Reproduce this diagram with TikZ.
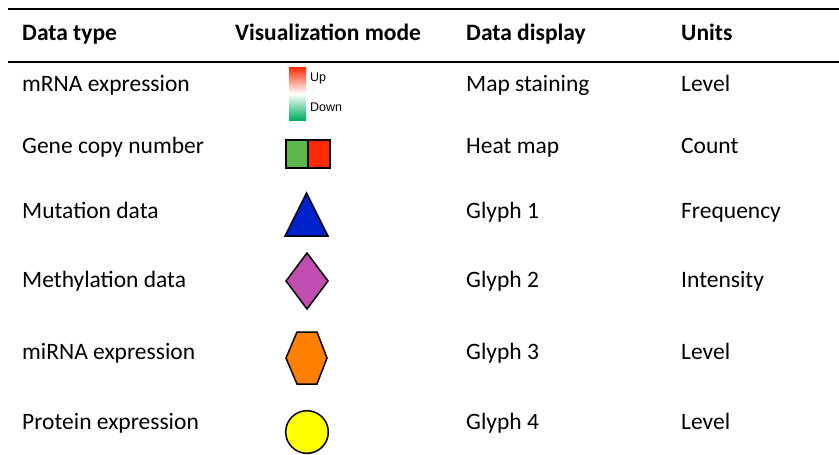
\documentclass[tikz,border=0pt]{standalone}
\usepackage{fontspec}
\setmainfont{Carlito}
\newfontfamily\smallsans{Liberation Sans}
\usetikzlibrary{shadows}

\definecolor{mapgreen}{HTML}{5CB84A}
\definecolor{mapred}{HTML}{FF2A00}
\definecolor{mapdown}{HTML}{00B060}
\definecolor{glyphblue}{HTML}{0022CC}
\definecolor{glyphpink}{HTML}{C04DB0}
\definecolor{glyphorange}{HTML}{FF7F00}
\definecolor{glyphyellow}{HTML}{FFFF00}

\tikzset{
  cell/.style={anchor=base west, inner sep=0pt, font=\fontsize{23.5}{28}\selectfont},
  head/.style={cell, font=\fontsize{23.5}{28}\selectfont\bfseries},
  tiny/.style={anchor=base west, inner sep=0pt, font=\fontsize{12.5}{14}\selectfont\smallsans},
  glyph/.style={draw=black, line width=1.5pt, line join=miter},
  rule/.style={line width=1.5pt}
}

\begin{document}
\begin{tikzpicture}[x=1pt, y=-1pt]
\useasboundingbox (0,0) rectangle (839,455);
% rules
\coordinate (t1) at (8,9);
\coordinate (t2) at (839,9);
\coordinate (m1) at (8,62);
\coordinate (m2) at (839,62);
\draw[rule] (t1) -- (t2);
\draw[rule] (m1) -- (m2);
% header
\node[head] (h1) at (22,40) {Data type};
\node[head] (h2) at (235,40) {Visualization mode};
\node[head] (h3) at (466,40) {Data display};
\node[head] (h4) at (681,40) {Units};
% column 1
\node[cell] (r1) at (22,91.5) {mRNA expression};
\node[cell] (r2) at (22,153) {Gene copy number};
\node[cell] (r3) at (22,218.5) {Mutation data};
\node[cell] (r4) at (22,287.5) {Methylation data};
\node[cell] (r5) at (22,359.5) {miRNA expression};
\node[cell] (r6) at (22,429.5) {Protein expression};
% column 3
\node[cell] (d1) at (466,91.5) {Map staining};
\node[cell] (d2) at (466,153) {Heat map};
\node[cell] (d3) at (466,218.5) {Glyph 1};
\node[cell] (d4) at (466,287.5) {Glyph 2};
\node[cell] (d5) at (466,359.5) {Glyph 3};
\node[cell] (d6) at (466,429.5) {Glyph 4};
% column 4
\node[cell] (u1) at (681,91.5) {Level};
\node[cell] (u2) at (681,153) {Count};
\node[cell] (u3) at (681,218.5) {Frequency};
\node[cell] (u4) at (681,287.5) {Intensity};
\node[cell] (u5) at (681,359.5) {Level};
\node[cell] (u6) at (681,429.5) {Level};
% map staining bar
\shade[top color=mapred, bottom color=mapdown, middle color=white] (289,67) rectangle (306,120);
\node[tiny] (up) at (310,81.5) {Up};
\node[tiny] (down) at (310,111.5) {Down};
% heat map
\draw[glyph, fill=mapgreen] (286,140) rectangle (308,168);
\draw[glyph, fill=mapred] (308,140) rectangle (330,168);
% glyphs
\draw[glyph, fill=glyphblue] (306.5,193) -- (328,236) -- (285,236) -- cycle;
\draw[glyph, fill=glyphpink] (307,253) -- (328,281) -- (307,309) -- (286,281) -- cycle;
\draw[glyph, fill=glyphorange] (297,332) -- (317,332) -- (327,358) -- (317,384) -- (297,384) -- (286,358) -- cycle;
\draw[glyph, fill=glyphyellow, drop shadow={opacity=0.25, shadow xshift=0.8pt, shadow yshift=-1.2pt}] (307,432) circle (21.3);
\end{tikzpicture}
\end{document}
